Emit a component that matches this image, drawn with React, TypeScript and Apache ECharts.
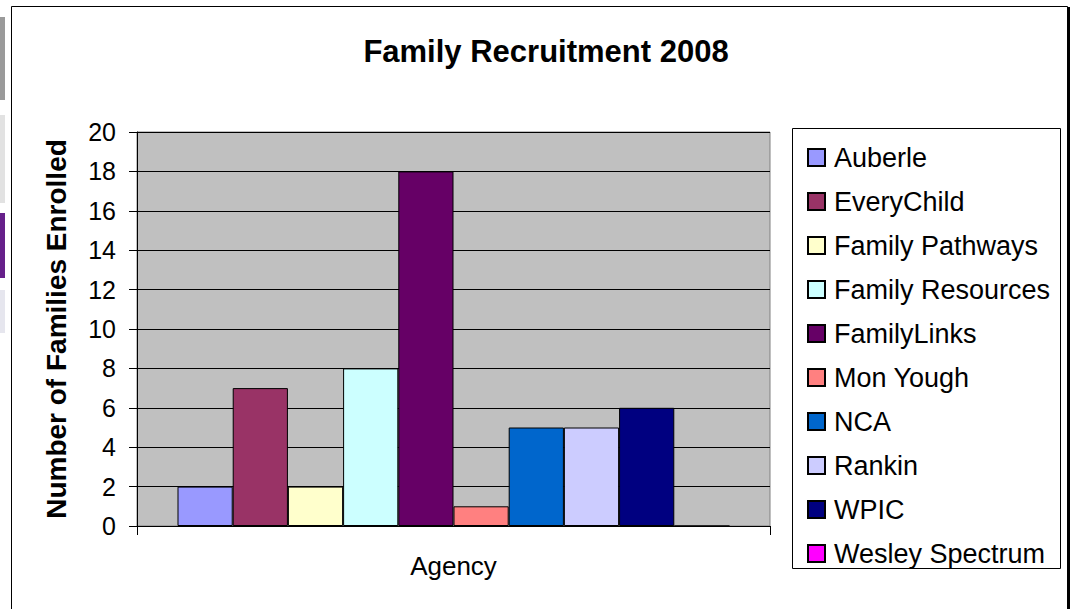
import React, { useEffect, useRef } from "react";
import * as echarts from "echarts";

const categories = ["Agency"];
const seriesNames = [
  "Auberle",
  "EveryChild",
  "Family Pathways",
  "Family Resources",
  "FamilyLinks",
  "Mon Yough",
  "NCA",
  "Rankin",
  "WPIC",
  "Wesley Spectrum",
];
const seriesValues = [2, 7, 2, 8, 18, 1, 5, 5, 6, 0];
const seriesColors = [
  "#9999FF",
  "#993366",
  "#FFFFCC",
  "#CCFFFF",
  "#660066",
  "#FF8080",
  "#0066CC",
  "#CCCCFF",
  "#000080",
  "#FF00FF",
];
const yTicks = { min: 0, max: 20, interval: 2 };
const titleText = "Family Recruitment 2008";
const yAxisTitle = "Number of Families Enrolled";

export default function App() {
  const ref = useRef<HTMLDivElement>(null);
  useEffect(() => {
    document.body.style.margin = "0";
    if (!ref.current) return;
    const chart = echarts.init(ref.current, undefined, { renderer: "svg" });
    const font = "Arial, 'Liberation Sans', sans-serif";
    const option: any = {
      animation: false,
      backgroundColor: "#FFFFFF",
      textStyle: { fontFamily: font },
      title: {
        text: titleText,
        left: 541,
        top: 31,
        textAlign: "center",
        textStyle: { fontFamily: font, fontSize: 31, fontWeight: "bold", color: "#000" },
      },
      grid: {
        left: 137,
        top: 132,
        right: 1074 - 770,
        bottom: 609 - 526,
        show: true,
        backgroundColor: "#C0C0C0",
        borderColor: "#808080",
        borderWidth: 1,
      },
      legend: {
        orient: "vertical",
        left: 802,
        top: 139,
        itemWidth: 17,
        itemHeight: 17,
        itemGap: 17,
        icon: "rect",
        textStyle: {
          fontFamily: font,
          fontSize: 27,
          color: "#000",
          lineHeight: 27,
          padding: [0, 0, 0, 4],
        },
        data: seriesNames,
      },
      xAxis: {
        type: "category",
        data: categories,
        axisLine: { lineStyle: { color: "#000", width: 1 } },
        axisTick: { show: true, length: 9, lineStyle: { color: "#000" } },
        axisLabel: { fontFamily: font, fontSize: 26, color: "#000", margin: 27 },
      },
      yAxis: {
        type: "value",
        min: yTicks.min,
        max: yTicks.max,
        interval: yTicks.interval,
        name: yAxisTitle,
        nameLocation: "middle",
        nameGap: 67,
        nameTextStyle: { fontFamily: font, fontSize: 28, fontWeight: "bold", color: "#000" },
        axisLine: { show: true, lineStyle: { color: "#000", width: 1 } },
        axisTick: { show: true, length: 8, lineStyle: { color: "#000" } },
        axisLabel: { fontFamily: font, fontSize: 25, color: "#000", margin: 21 },
        splitLine: { show: true, lineStyle: { color: "#000", width: 1 } },
      },
      series: seriesNames.map((name, i) => ({
        name,
        type: "bar",
        data: [seriesValues[i]],
        barGap: "0%",
        barCategoryGap: "12.8%",
        itemStyle: { color: seriesColors[i], borderColor: "#000", borderWidth: 1 },
      })),
      graphic: [
        { type: "rect", shape: { x: 11.5, y: 6.5, width: 1056, height: 620 }, style: { fill: "none", stroke: "#000", lineWidth: 1 }, silent: true },
        { type: "line", shape: { x1: 1069, y1: 7, x2: 1069, y2: 609 }, style: { stroke: "#000", lineWidth: 2 }, silent: true },
        { type: "rect", shape: { x: 792.5, y: 128.5, width: 268, height: 440 }, style: { fill: "none", stroke: "#000", lineWidth: 1 }, silent: true },
        { type: "rect", shape: { x: 0, y: 17, width: 5, height: 83 }, style: { fill: "#9a9a9a" }, silent: true },
        { type: "rect", shape: { x: 0, y: 115, width: 5, height: 88 }, style: { fill: "#e2e2e2" }, silent: true },
        { type: "rect", shape: { x: 0, y: 213, width: 5, height: 65 }, style: { fill: "#66208a" }, silent: true },
        { type: "rect", shape: { x: 0, y: 290, width: 5, height: 43 }, style: { fill: "#e6e6ee" }, silent: true },
      ],
    };
    chart.setOption(option);
    return () => chart.dispose();
  }, []);
  return <div ref={ref} style={{ width: 1074, height: 609 }} />;
}
